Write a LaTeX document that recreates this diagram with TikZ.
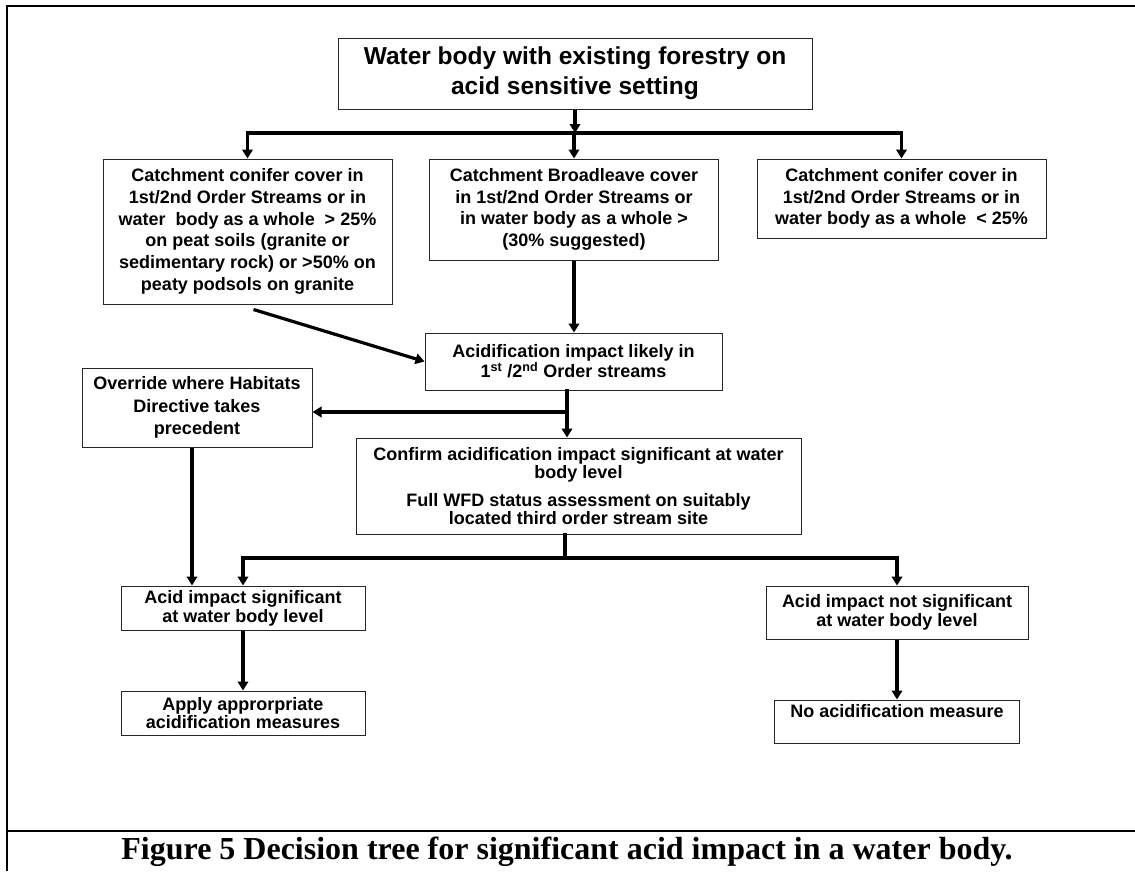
\documentclass[tikz,border=0pt]{standalone}
\usepackage{fontspec}
\setmainfont{Liberation Sans}
\newfontfamily\captionfont{Liberation Serif}
\usetikzlibrary{arrows.meta, positioning}

\begin{document}
\begin{tikzpicture}[x=1pt, y=-1pt,
    box/.style={draw=black!85, line width=1pt, align=center, inner sep=0pt,
        font=\fontsize{18}{21.7}\selectfont\bfseries},
    arr/.style={line width=3.2pt, -{Triangle[length=9pt,width=10.5pt]}},
    link/.style={line width=3.2pt, line cap=rect}]
    \useasboundingbox (0,0) rectangle (1135,871);

    % Frame
    \draw[line width=1.5pt] (7,871) -- (7,6) -- (1135,6);
    \draw[line width=2pt] (7,831) -- (1135,831);

    % Boxes
    \node[box, minimum width=474pt, minimum height=71pt, font=\fontsize{24.5}{30}\selectfont\bfseries] (water) at (575,73.5)
        {Water body with existing forestry on\\acid sensitive setting};
    \node[box, minimum width=289pt, minimum height=145pt] (c1) at (247.5,231.5)
        {Catchment conifer cover in\\1st/2nd Order Streams or in\\water\ \ body as a whole \ > 25\%\\on peat soils (granite or\\sedimentary rock) or >50\% on\\peaty podsols on granite};
    \node[box, minimum width=289pt, minimum height=101pt] (c2) at (574,209.5)
        {Catchment Broadleave cover\\in 1st/2nd Order Streams or\\in water body as a whole >\\(30\% suggested)};
    \node[box, minimum width=289pt, minimum height=79pt] (c3) at (901.5,198.5)
        {Catchment conifer cover in\\1st/2nd Order Streams or in\\water body as a whole \ < 25\%};
    \node[box, minimum width=297pt, minimum height=57pt, font=\fontsize{18}{20}\selectfont\bfseries] (acid) at (573.5,361.5)
        {Acidification impact likely in\\1\textsuperscript{st} /2\textsuperscript{nd} Order streams};
    \node[box, minimum width=230pt, minimum height=79pt, font=\fontsize{18}{22.5}\selectfont\bfseries] (override) at (197,407.5)
        {Override where Habitats\\Directive takes\\precedent};
    \node[box, minimum width=445pt, minimum height=96pt, font=\fontsize{18}{17.5}\selectfont\bfseries] (confirm) at (578.5,486)
        {Confirm acidification impact significant at water\\body level\\[11pt]Full WFD status assessment on suitably\\located third order stream site};
    \node[box, minimum width=244pt, minimum height=44pt, font=\fontsize{18}{19}\selectfont\bfseries] (sig) at (243,608)
        {Acid impact significant\\at water body level};
    \node[box, minimum width=244pt, minimum height=44pt, font=\fontsize{18}{18}\selectfont\bfseries] (apply) at (243,713)
        {Apply approrpriate\\acidification measures};
    \node[box, minimum width=262pt, minimum height=53pt, font=\fontsize{18}{19}\selectfont\bfseries] (notsig) at (897,612.5)
        {Acid impact not significant\\at water body level};
    \node[box, minimum width=245pt, minimum height=43pt] (noacid) at (897,721.5)
        {No acidification measure\\~};

    % Branch points
    \coordinate (split1) at (575,133);
    \coordinate (split2) at (567,412);
    \coordinate (split3) at (565,558);

    % Connectors
    \draw[arr] (water) -- (split1);
    \draw[link] (c1.north |- split1) -- (c3.north |- split1);
    \foreach \n in {c1,c2,c3}
        \draw[arr] (\n.north |- split1) -- (\n.north);
    \draw[arr] ([shift={(6,5)}]c1.south) -- (acid.west);
    \draw[arr] (c2.south) -- (c2.south |- acid.north);
    \draw[link] (split2 |- acid.south) -- (split2);
    \draw[arr] (split2) -- (split2 -| override.east);
    \draw[arr] (split2) -- (split2 |- confirm.north);
    \draw[link] (split3 |- confirm.south) -- (split3);
    \draw[link] (sig.north |- split3) -- (notsig.north |- split3);
    \draw[arr] (sig.north |- split3) -- (sig.north);
    \draw[arr] (notsig.north |- split3) -- (notsig.north);
    \draw[arr] ([xshift=-5]override.south) -- ([xshift=-5]override.south |- sig.north);
    \draw[arr] (sig.south) -- (apply.north);
    \draw[arr] (notsig.south) -- (noacid.north);

    % Caption
    \node[font=\captionfont\bfseries\fontsize{32}{36}\selectfont] (caption) at (567,852)
        {Figure 5 Decision tree for significant acid impact in a water body.};
\end{tikzpicture}
\end{document}
